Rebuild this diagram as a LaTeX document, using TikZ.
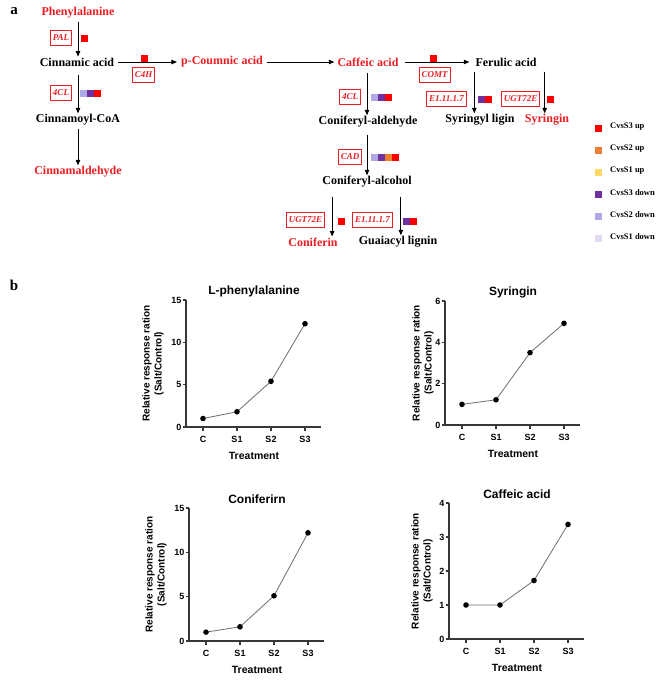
\documentclass[tikz,border=0pt]{standalone}
\usepackage{fontspec}
\setmainfont{Liberation Serif}
\setsansfont{Liberation Sans}
\usetikzlibrary{arrows.meta,calc}
\definecolor{pred}{RGB}{235,30,35}
\definecolor{sqred}{RGB}{250,0,0}
\definecolor{sqorange}{RGB}{237,125,49}
\definecolor{sqyellow}{RGB}{255,217,102}
\definecolor{sqpurple}{RGB}{112,48,160}
\definecolor{sqlav}{RGB}{175,170,230}
\definecolor{sqpale}{RGB}{228,218,242}
\definecolor{axcol}{RGB}{55,55,55}
\definecolor{lncol}{RGB}{110,110,110}
\tikzset{
  met/.style={font=\fontsize{12}{14}\selectfont\bfseries, inner sep=1pt},
  redmet/.style={met, text=pred},
  enz/.style={draw=pred, line width=0.8pt, text=pred, font=\fontsize{9}{10}\selectfont\bfseries\itshape, inner xsep=2.5pt, inner ysep=2pt, minimum height=15pt},
  arr/.style={-{Triangle[length=5.5pt,width=4.5pt]}, line width=0.8pt},
  sqbox/.style={minimum size=7pt, inner sep=0pt, draw=none},
  leg/.style={font=\fontsize{8.5}{10}\selectfont\bfseries, anchor=west, inner sep=0pt},
  panel/.style={font=\fontsize{15}{17}\selectfont\bfseries, inner sep=0pt},
  axisln/.style={draw=axcol, line width=1.1pt},
  ticklab/.style={font=\sffamily\bfseries\fontsize{9}{10}\selectfont, inner sep=1pt},
  ttl/.style={font=\sffamily\bfseries\fontsize{12}{14}\selectfont, inner sep=0pt},
  xlab/.style={font=\sffamily\bfseries\fontsize{10.5}{12}\selectfont, inner sep=0pt},
  ylab/.style={font=\sffamily\bfseries\fontsize{10}{12}\selectfont, inner sep=0pt, align=center, rotate=90},
  dline/.style={draw=lncol, line width=0.8pt}
}
% strip of coloured squares: name, x, y, colours
\newcommand\mystrip[4]{%
  \foreach \c [count=\k from 0] in {#4} {\node[sqbox, fill=\c] (#1-\k) at (#2+7*\k,#3) {};}%
}
% line plot: x0, y0, height, ymax, ticks, title, data, ylabel x
\newcommand\lplot[8]{%
  \begin{scope}[shift={(#1,#2)}]
    \draw[axisln] (0,-#3) -- (0,0) -- (135,0);
    \foreach \t in {#5} {
      \draw[axisln] (-3.5,-\t*#3/#4) -- (0,-\t*#3/#4);
      \node[ticklab, anchor=east] at (-3.5,-\t*#3/#4) {\t};
    }
    \foreach \lab [count=\i from 0] in {C,S1,S2,S3} {
      \draw[axisln] (17+34*\i,0) -- (17+34*\i,3.5);
      \node[ticklab] at (17+34*\i,12) {\lab};
    }
    \node[ttl] at (68,-#3-9) {#6};
    \node[xlab] at (68,29) {Treatment};
    \node[ylab] at (#8,-#3/2) {Relative response ration\\(Salt/Control)};
    \foreach \v [count=\i from 0] in {#7} {\coordinate (d\i) at (17+34*\i,-\v*#3/#4);}
    \draw[dline] (d0) -- (d1) -- (d2) -- (d3);
    \foreach \i in {0,...,3} {\fill[black] (d\i) circle (2.8);}
  \end{scope}%
}
\begin{document}
\begin{tikzpicture}[x=1pt,y=-1pt]
\useasboundingbox (0,0) rectangle (669,680);
\fill[white] (0,0) rectangle (669,680);

% panel labels
\node[panel] (pa) at (14,11) {a};
\node[panel] (pb) at (14,285) {b};

% metabolites
\node[redmet] (phe) at (78,13) {Phenylalanine};
\node[met] (cin) at (77,62) {Cinnamic acid};
\node[met] (coa) at (78,120) {Cinnamoyl-CoA};
\node[redmet] (cald) at (78,172) {Cinnamaldehyde};
\node[redmet] (pcou) at (222,62) {p-Coumnic acid};
\node[redmet] (caf) at (368,62) {Caffeic acid};
\node[met] (fer) at (506,62) {Ferulic acid};
\node[met] (syl) at (480,120) {Syringyl ligin};
\node[redmet] (syg) at (547,120) {Syringin};
\node[met] (cnald) at (368,122) {Coniferyl-aldehyde};
\node[met] (calc) at (367,182) {Coniferyl-alcohol};
\node[redmet] (cfn) at (313,242) {Coniferin};
\node[met] (gua) at (398,242) {Guaiacyl lignin};

% arrows
\draw[arr] (phe.south) ++(0,2) coordinate (pheA) -- (pheA |- cin.north);
\draw[arr] ($(cin.south)+(1,8)$) coordinate (cinA) -- (cinA |- coa.north);
\draw[arr] ($(coa.south)+(0,2)$) coordinate (coaA) -- (coaA |- cald.north);
\draw[arr] ($(cin.east)+(3,0)$) -- ($(pcou.west)+(-3,0)$);
\draw[arr] ($(pcou.east)+(3,0)$) -- ($(caf.west)+(-2,0)$);
\draw[arr] ($(caf.east)+(5,0)$) -- ($(fer.west)+(-5,0)$);
\draw[arr] ($(caf.south)+(-1,6)$) coordinate (cafA) -- (cafA |- cnald.north);
\draw[arr] ($(cnald.south)+(-1,6)$) coordinate (cnA) -- (cnA |- calc.north);
\draw[arr] ($(fer.south west)+(0,5)$) coordinate (ferA) -- (ferA |- syl.north);
\draw[arr] ($(fer.south east)+(7,5)$) coordinate (ferB) -- (ferB |- syg.north);
\draw[arr] ($(calc.south west)+(11,8)$) coordinate (caA) -- (caA |- cfn.north);
\draw[arr] ($(calc.south east)+(-12,8)$) coordinate (caB) -- (caB |- gua.north);

% enzymes
\node[enz] (pal) at (61,38) {PAL};
\node[enz] (cl1) at (61,93) {4CL};
\node[enz] (c4h) at (143.5,75) {C4H};
\node[enz] (comt) at (434.5,75) {COMT};
\node[enz] (cl2) at (350,96.5) {4CL};
\node[enz] (cad) at (350,157) {CAD};
\node[enz] (e1a) at (446.5,98.5) {E1.11.1.7};
\node[enz] (uga) at (520.5,98.5) {UGT72E};
\node[enz] (ugb) at (305.5,220) {UGT72E};
\node[enz] (e1b) at (372.5,220) {E1.11.1.7};

% expression strips
\mystrip{spal}{84}{38}{sqred}
\mystrip{sc4h}{144}{58}{sqred}
\mystrip{scl1}{83}{93}{sqlav,sqpurple,sqred}
\mystrip{scomt}{433}{58}{sqred}
\mystrip{scl2}{374}{97}{sqlav,sqpurple,sqred}
\mystrip{scad}{374}{157}{sqlav,sqpurple,sqorange,sqred}
\mystrip{se1a}{481}{99}{sqpurple,sqred}
\mystrip{suga}{550}{99}{sqred}
\mystrip{sugb}{341}{221}{sqred}
\mystrip{se1b}{406}{221}{sqpurple,sqred}

% legend
\foreach \col/\txt [count=\j from 0] in {sqred/CvsS3 up, sqorange/CvsS2 up, sqyellow/CvsS1 up, sqpurple/CvsS3 down, sqlav/CvsS2 down, sqpale/CvsS1 down} {
  \node[sqbox, fill=\col] (lg\j) at (598,128+22*\j) {};
  \node[leg] (lt\j) at (610,127+22*\j) {\txt};
}

% plots
\lplot{186}{427}{127}{15}{0,5,10,15}{L-phenylalanine}{1,1.8,5.4,12.2}{-33}
\lplot{445}{425}{124}{6}{0,2,4,6}{Syringin}{1,1.22,3.5,4.92}{-22}
\lplot{189}{641}{133}{15}{0,5,10,15}{Coniferirn}{1,1.6,5.1,12.2}{-33}
\lplot{449}{639}{136}{4}{0,1,2,3,4}{Caffeic acid}{1,1,1.72,3.37}{-27}
\end{tikzpicture}
\end{document}
